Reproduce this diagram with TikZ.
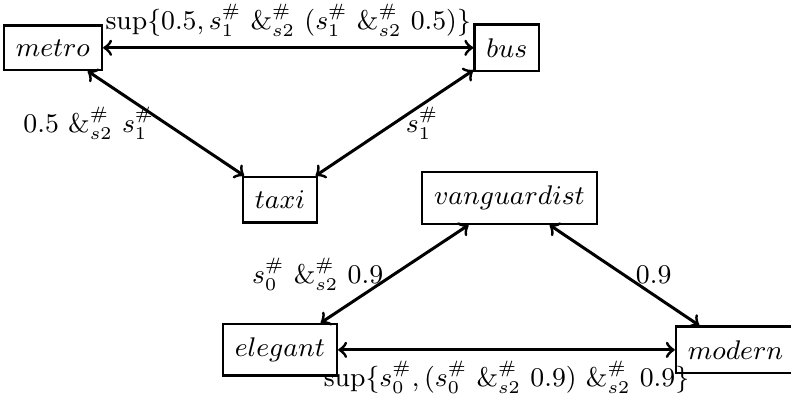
\documentclass[tikz,border=0pt]{standalone}
\begin{document}
\begin{tikzpicture}[font=\small, box/.style={draw, thick, inner xsep=4pt, inner ysep=4.6pt}, link/.style={<->, line width=1pt}]
    \useasboundingbox (0,0) rectangle (9.27,4.72);
    \node[box] (m) at (0.62, 4.16) {$metro$};
    \node[box] (b) at (5.94, 4.16) {$bus$};
    \node[box] (t) at (3.28, 2.38) {$taxi$};
    \node[box] (v) at (5.97, 2.40) {$vanguardist$};
    \node[box] (e) at (3.28, 0.62) {$elegant$};
    \node[box] (o) at (8.62, 0.62) {$modern$};
    \draw[link] (m) -- node[above] {$\sup\{0.5, s_1^{\#}\ \&_{s2}^{\#}\ (s_1^{\#}\ \&_{s2}^{\#}\ 0.5)\}$} (b);
    \draw[link] (m) -- node[left] {$0.5\ \&_{s2}^{\#}\ s_1^{\#}$} (t);
    \draw[link] (b) -- node[right] {$s_1^{\#}$} (t);
    \draw[link] (v) -- node[left] {$s_0^{\#}\ \&_{s2}^{\#}\ 0.9$} (e);
    \draw[link] (v) -- node[right] {$0.9$} (o);
    \draw[link] (e) -- node[below] {$\sup\{s_0^{\#}, (s_0^{\#}\ \&_{s2}^{\#}\ 0.9)\ \&_{s2}^{\#}\ 0.9\}$} (o);
\end{tikzpicture}
\end{document}
